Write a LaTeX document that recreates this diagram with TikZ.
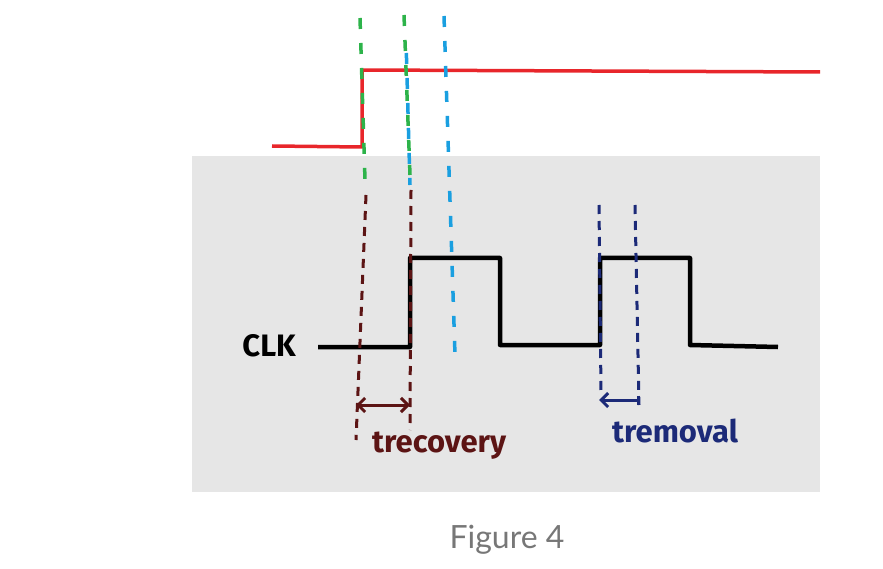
\documentclass[tikz,border=0pt]{standalone}
\usepackage{fontspec}
\setmainfont{Lato}
\newfontfamily\hand{Fira Sans}
\usetikzlibrary{arrows.meta}
\definecolor{bggray}{HTML}{E6E6E6}
\definecolor{sigred}{HTML}{E8262B}
\definecolor{dgreen}{HTML}{2DB34A}
\definecolor{dblue}{HTML}{1A9FE0}
\definecolor{dbrown}{HTML}{5C1414}
\definecolor{dnavy}{HTML}{1C2A78}
\definecolor{capgray}{HTML}{777777}
\tikzset{
  guide/.style={line width=3.5pt, dash pattern=on 11pt off 14pt},
  thin guide/.style={line width=3pt, dash pattern=on 9pt off 7pt},
  clk/.style={line width=4.5pt, black, line join=round},
  lbl/.style={font=\hand\bfseries\fontsize{31}{31}\selectfont, inner sep=0pt}
}
\begin{document}
\begin{tikzpicture}[x=1pt,y=-1pt]
\useasboundingbox (0,0) rectangle (883,569);
\fill[bggray] (192,156) rectangle (820,492);
% red signal
\coordinate (r0) at (272,146);
\coordinate (r1) at (362,147);
\coordinate (r2) at (362,70);
\coordinate (r3) at (820,72);
\draw[sigred, line width=3.5pt, line join=round] (r0) -- (r1) -- (r2) -- (r3);
% green guides
\coordinate (g1t) at (360,18);  \coordinate (g1b) at (365,180);
\coordinate (g2t) at (404,15);  \coordinate (g2b) at (410,175);
\draw[dgreen, guide] (g1t) -- (g1b);
\draw[dgreen, guide] (g2t) -- (g2b);
% blue guides
\coordinate (b1t) at (406,40);  \coordinate (b1b) at (410,185);
\coordinate (b2t) at (444,16);  \coordinate (b2b) at (455,355);
\draw[dblue, guide, dash phase=12pt] (b1t) -- (b1b);
\draw[dblue, guide] (b2t) -- (b2b);
% clock
\coordinate (c0) at (318,347);
\coordinate (c1) at (410,347);
\coordinate (c2) at (410,258);
\coordinate (c3) at (500,258);
\coordinate (c4) at (500,345);
\coordinate (c5) at (600,345);
\coordinate (c6) at (600,258);
\coordinate (c7) at (690,258);
\coordinate (c8) at (690,345);
\coordinate (c9) at (778,347);
\draw[clk] (c0) -- (c1) -- (c2) -- (c3) -- (c4) -- (c5) -- (c6) -- (c7) -- (c8) -- (c9);
\node[lbl, anchor=east] (clklbl) at (296,346) {CLK};
% brown guides and arrow
\coordinate (br1t) at (366,195); \coordinate (br1b) at (356,440);
\coordinate (br2t) at (411,190); \coordinate (br2b) at (410,430);
\draw[dbrown, thin guide] (br1t) -- (br1b);
\draw[dbrown, thin guide] (br2t) -- (br2b);
\coordinate (ba1) at (356,405); \coordinate (ba2) at (410,405);
\draw[dbrown, line width=3pt, {Straight Barb[length=7pt]}-{Straight Barb[length=7pt]}] (ba1) -- (ba2);
\node[lbl, dbrown, anchor=base west] (trec) at (372,452) {trecovery};
% navy guides and arrow
\coordinate (n1t) at (599,205); \coordinate (n1b) at (601,392);
\coordinate (n2t) at (635,205); \coordinate (n2b) at (639,405);
\draw[dnavy, thin guide] (n1t) -- (n1b);
\draw[dnavy, thin guide] (n2t) -- (n2b);
\coordinate (na1) at (599,400); \coordinate (na2) at (640,400);
\draw[dnavy, line width=3pt, {Straight Barb[length=7pt]}-{Bar[width=9pt]}] (na1) -- (na2);
\node[lbl, dnavy, anchor=base west] (trem) at (612,442) {tremoval};
% caption
\node[font=\fontsize{32}{32}\selectfont, text=capgray, inner sep=0pt] (cap) at (507,540) {Figure 4};
\end{tikzpicture}
\end{document}
